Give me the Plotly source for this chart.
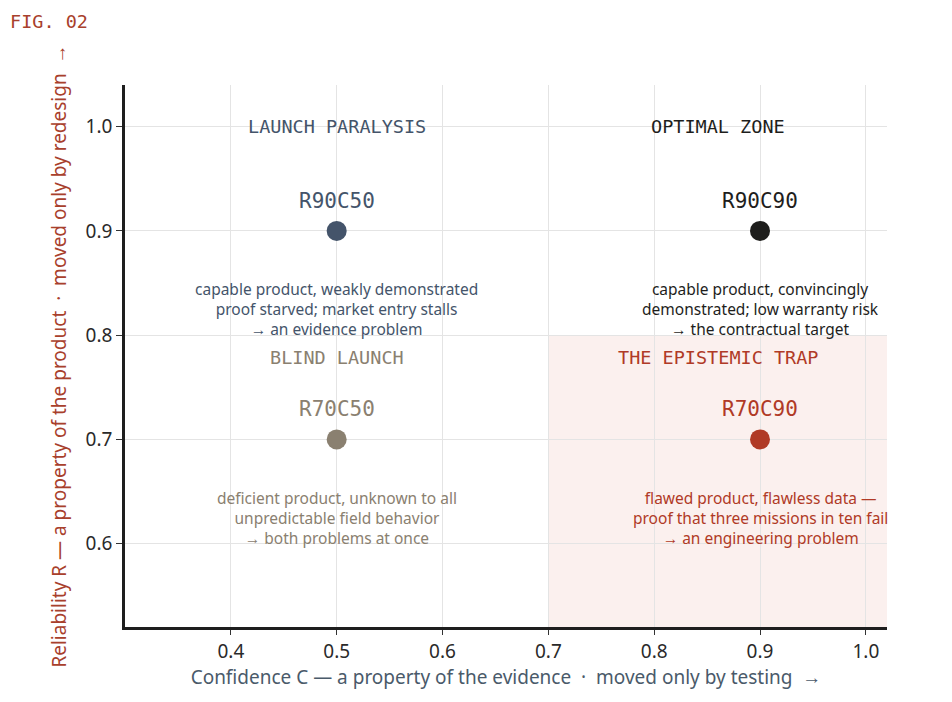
import plotly.graph_objects as go

# quadrant points
confidence = [0.5, 0.9, 0.5, 0.9]
reliability = [0.9, 0.9, 0.7, 0.7]
point_names = ["R90C50", "R90C90", "R70C50", "R70C90"]
point_colors = ["#44546a", "#1e1e1c", "#8a8070", "#b03a26"]
descriptions = [
    "capable product, weakly demonstrated<br>proof starved; market entry stalls<br>→ an evidence problem",
    "capable product, convincingly<br>demonstrated; low warranty risk<br>→ the contractual target",
    "deficient product, unknown to all<br>unpredictable field behavior<br>→ both problems at once",
    "flawed product, flawless data —<br>proof that three missions in ten fail<br>→ an engineering problem",
]

# quadrant headings
zone_names = ["LAUNCH PARALYSIS", "OPTIMAL ZONE", "BLIND LAUNCH", "THE EPISTEMIC TRAP"]
zone_x = [0.5, 0.86, 0.5, 0.86]
zone_y = [1.0, 1.0, 0.779, 0.779]

x_ticks = [0.4, 0.5, 0.6, 0.7, 0.8, 0.9, 1.0]
y_ticks = [0.6, 0.7, 0.8, 0.9, 1.0]
x_range = [0.3, 1.02]
y_range = [0.52, 1.04]

MONO = "DejaVu Sans Mono"
SANS = "Noto Sans"
RED = "#a8402c"

fig = go.Figure()

# shaded trap region (high confidence, low reliability)
fig.add_shape(type="rect", xref="x", yref="y",
              x0=0.7, x1=x_range[1], y0=y_range[0], y1=0.8,
              fillcolor="#fbf0ee", line=dict(width=0), layer="below")

fig.add_trace(go.Scatter(
    x=confidence, y=reliability, mode="markers",
    marker=dict(size=20, color=point_colors, line=dict(width=0)),
    hoverinfo="skip", showlegend=False
))

for cx, ry, name, col, desc in zip(confidence, reliability, point_names, point_colors, descriptions):
    fig.add_annotation(x=cx, y=ry, text=name, showarrow=False, yshift=30,
                       font=dict(family=MONO, size=21, color=col))
    fig.add_annotation(x=cx, y=ry - 0.075, text=desc, showarrow=False,
                       font=dict(family=SANS, size=15.5, color=col))

for zx, zy, zn, col in zip(zone_x, zone_y, zone_names, point_colors):
    fig.add_annotation(x=zx, y=zy, text=zn, showarrow=False,
                       font=dict(family=MONO, size=18.5, color=col))

fig.add_annotation(xref="paper", yref="paper", x=-0.153, y=1.14, xanchor="left",
                   text="FIG. 02", showarrow=False,
                   font=dict(family=MONO, size=18.5, color=RED))

fig.update_xaxes(range=x_range, tickvals=x_ticks, ticktext=[f"{v:.1f}" for v in x_ticks],
                 showgrid=True, gridcolor="#e4e4e4", gridwidth=1, zeroline=False,
                 showline=True, linecolor="#1e1e1e", linewidth=2.5,
                 ticks="outside", ticklen=5, tickcolor="#333333",
                 tickfont=dict(family=SANS, size=19, color="#2a2a2a"),
                 title=dict(text="Confidence C — a property of the evidence  ·  moved only by testing  →",
                            font=dict(family=SANS, size=19, color="#4a5a6a"), standoff=8))
fig.update_yaxes(range=y_range, tickvals=y_ticks, ticktext=[f"{v:.1f}" for v in y_ticks],
                 showgrid=True, gridcolor="#e4e4e4", gridwidth=1, zeroline=False,
                 showline=True, linecolor="#1e1e1e", linewidth=2.5,
                 ticks="outside", ticklen=6, tickcolor="#333333",
                 tickfont=dict(family=SANS, size=19, color="#2a2a2a"),
                 title=dict(text="Reliability R — a property of the product  ·  moved only by redesign  →",
                            font=dict(family=SANS, size=19, color=RED), standoff=14))

fig.update_layout(
    width=952, height=702,
    margin=dict(l=117, r=73, t=77, b=83),
    plot_bgcolor="white", paper_bgcolor="white",
    showlegend=False,
)

fig.write_html("out.html")
